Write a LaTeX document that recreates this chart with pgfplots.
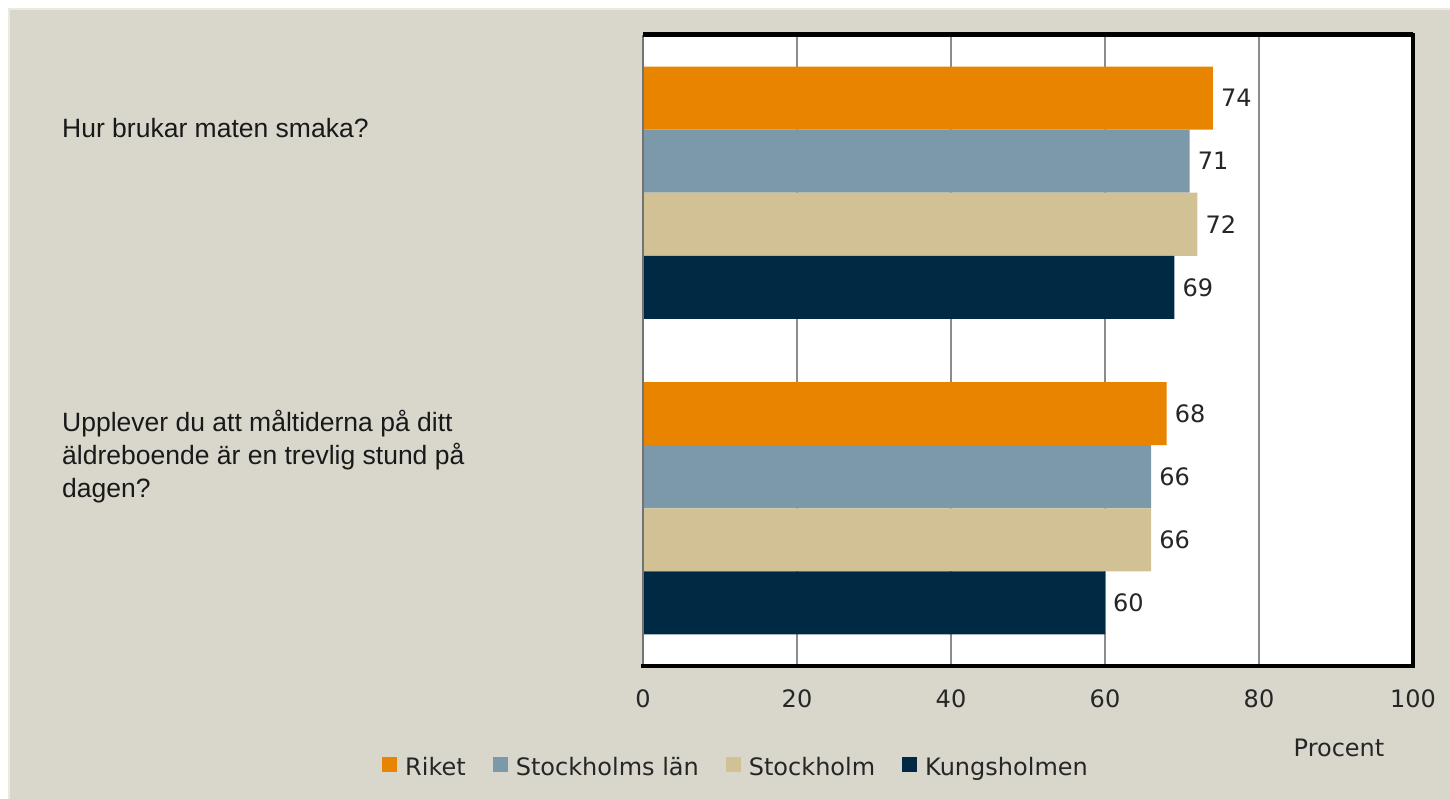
\documentclass[border=0pt]{standalone}
\usepackage{pgfplots}
\pgfplotsset{compat=1.18}
\usepackage{fontspec}
\setmainfont{Liberation Sans}
\newfontfamily\chartfont{DejaVu Sans}
\definecolor{bg}{RGB}{217,215,204}
\definecolor{bgl}{RGB}{236,234,224}
\definecolor{cRiket}{RGB}{232,132,0}
\definecolor{cLan}{RGB}{123,153,168}
\definecolor{cSthlm}{RGB}{211,193,150}
\definecolor{cKungs}{RGB}{0,42,67}
\newcommand{\cf}{\chartfont\fontsize{24}{28}\selectfont}
\begin{document}
\begin{tikzpicture}
\useasboundingbox (0pt,0pt) rectangle (1450pt,799pt);
\fill[white] (-5pt,-5pt) rectangle (1455pt,805pt);
\fill[bg] (8pt,-5pt) rectangle (1455pt,791pt);
\draw[bgl, line width=2pt] (9pt,-5pt) -- (9pt,790pt) -- (1455pt,790pt);
\begin{axis}[
 at={(643pt,133pt)}, anchor=south west,
 width=770pt, height=631pt, scale only axis,
 xbar, bar width=1, bar shift=0pt,
 xmin=0, xmax=100, ymin=0, ymax=10, y dir=reverse,
 xtick={0,20,...,100}, ytick=\empty,
 major tick length=0pt,
 axis line style={draw=none},
 axis background/.style={fill=white},
 xmajorgrids, grid style={color=black!45, line width=1.2pt},
 /pgf/number format/assume math mode=true,
 xticklabel style={font=\cf, inner sep=0pt, yshift=-23pt, text=black!85},
 nodes near coords,
 nodes near coords style={font=\cf, anchor=west, inner sep=0pt, xshift=8pt, text=black!85},
 legend style={at={(0.1208,-0.160)}, anchor=center, draw=none, fill=none,
   font=\cf, text=black!85, legend columns=4,
   /tikz/every odd column/.append style={column sep=6pt},
   /tikz/every even column/.append style={column sep=25pt}},
 legend image code/.code={\fill[#1] (0pt,-5pt) rectangle (15pt,10pt);},
 clip=false,
]
\addplot[fill=cRiket, draw=none] coordinates {(74,1) (68,6)};
\addplot[fill=cLan, draw=none] coordinates {(71,2) (66,7)};
\addplot[fill=cSthlm, draw=none] coordinates {(72,3) (66,8)};
\addplot[fill=cKungs, draw=none] coordinates {(69,4) (60,9)};
\legend{Riket, Stockholms län, Stockholm, Kungsholmen}
\draw[black!55, line width=2pt] (axis description cs:0,0) -- (axis description cs:0,1);
\draw[black, line width=5pt] (axis description cs:0,1) -- (axis description cs:1,1);
\draw[black, line width=4pt, line cap=rect] (axis description cs:1,1) -- (axis description cs:1,0) -- (axis description cs:0,0);
\end{axis}
\node[anchor=west, inner sep=0pt, font=\fontsize{26.5}{33}\selectfont, text=black!90] at (62pt,671pt) {Hur brukar maten smaka?};
\node[anchor=west, inner sep=0pt, align=left, font=\fontsize{26.5}{33}\selectfont, text=black!90] at (62pt,342pt) {Upplever du att måltiderna på ditt\\äldreboende är en trevlig stund på\\dagen?};
\node[font=\cf, text=black!85] at (1339pt,51pt) {Procent};
\end{tikzpicture}
\end{document}
